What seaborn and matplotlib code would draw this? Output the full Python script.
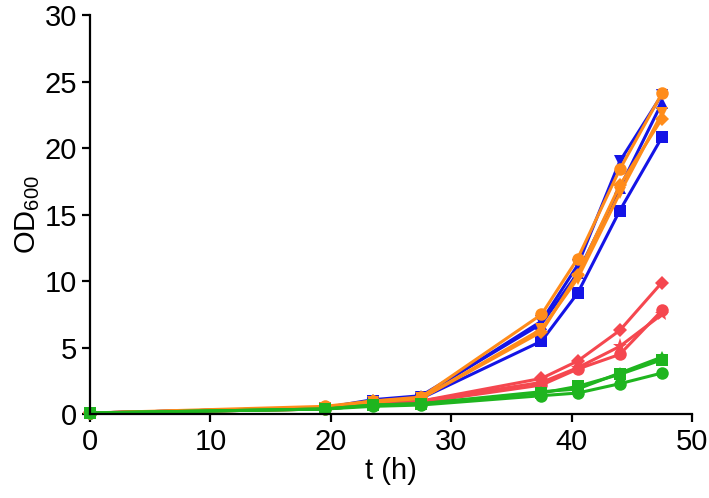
import pandas as pd
import matplotlib.pyplot as plt
import seaborn as sns

# sampling times (h)
t = [0, 19.5, 23.5, 27.5, 37.5, 40.5, 44, 47.5]

# OD600 readings, three replicates per strain
blue_sq = [0.1, 0.5, 1.0, 1.2, 5.5, 9.1, 15.3, 20.8]
blue_up = [0.1, 0.5, 1.1, 1.4, 6.8, 10.6, 17.0, 23.4]
blue_dn = [0.1, 0.5, 1.0, 1.3, 7.0, 11.2, 19.0, 24.0]

orange_o = [0.1, 0.6, 1.0, 1.3, 7.5, 11.7, 18.4, 24.1]
orange_dn = [0.1, 0.5, 0.9, 1.2, 6.4, 10.2, 16.6, 22.6]
orange_d = [0.1, 0.5, 1.0, 1.2, 6.2, 10.5, 17.2, 22.2]

red_d = [0.1, 0.4, 0.8, 1.0, 2.7, 4.0, 6.3, 9.9]
red_o = [0.1, 0.4, 0.7, 0.9, 2.2, 3.4, 4.5, 7.8]
red_x = [0.1, 0.4, 0.8, 1.0, 2.4, 3.5, 5.1, 7.5]

green_sq = [0.1, 0.4, 0.7, 0.8, 1.6, 2.1, 3.0, 4.1]
green_up = [0.1, 0.4, 0.7, 0.8, 1.7, 1.9, 3.1, 4.3]
green_o = [0.1, 0.4, 0.6, 0.7, 1.4, 1.6, 2.3, 3.1]

BLUE = '#1414e6'
ORANGE = '#ff8c1a'
RED = '#f5474f'
GREEN = '#1fb51f'

series = [
    (red_d, RED, 'D'), (red_o, RED, 'o'), (red_x, RED, '*'),
    (blue_sq, BLUE, 's'), (blue_up, BLUE, '^'), (blue_dn, BLUE, 'v'),
    (orange_d, ORANGE, 'D'), (orange_dn, ORANGE, 'v'), (orange_o, ORANGE, 'o'),
    (green_up, GREEN, '^'), (green_sq, GREEN, 's'), (green_o, GREEN, 'o'),
]

sns.set_style('ticks')
plt.rcParams['font.family'] = ['Liberation Sans', 'DejaVu Sans']
plt.rcParams['mathtext.default'] = 'regular'
plt.rcParams['text.color'] = 'black'
plt.rcParams['axes.labelcolor'] = 'black'
plt.rcParams['xtick.color'] = 'black'
plt.rcParams['ytick.color'] = 'black'

fig, ax = plt.subplots(figsize=(7.09, 4.98), dpi=100)

for vals, col, mk in series:
    df = pd.DataFrame({'t': t, 'od': vals})
    sz = 9 if mk != '*' else 11
    if mk == 'D':
        sz = 7
    sns.lineplot(data=df, x='t', y='od', ax=ax, color=col, marker=mk,
                 markersize=sz, markeredgewidth=0, linewidth=2.2,
                 clip_on=False)

ax.set_xlim(0, 50)
ax.set_ylim(0, 30)
ax.set_xticks([0, 10, 20, 30, 40, 50])
ax.set_yticks([0, 5, 10, 15, 20, 25, 30])
ax.set_xlabel('t (h)', fontsize=21, labelpad=1)
ax.set_ylabel('OD$_{600}$', fontsize=21, labelpad=2)
ax.tick_params(labelsize=21, width=1.6, length=6, colors='black')
for s in ['left', 'bottom']:
    ax.spines[s].set_linewidth(1.6)
    ax.spines[s].set_color('black')
sns.despine(ax=ax)

plt.subplots_adjust(left=0.127, right=0.976, bottom=0.168, top=0.970)
plt.savefig('out.png', dpi=100)
